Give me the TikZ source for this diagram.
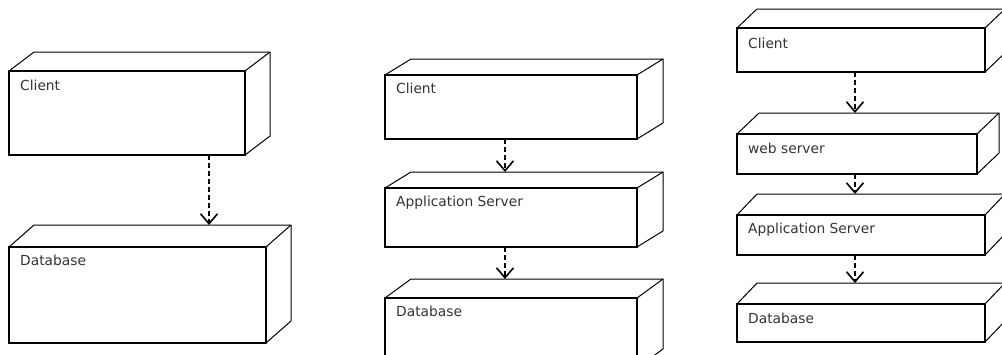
\documentclass[tikz,border=0pt]{standalone}
\usepackage{fontspec}
\setsansfont{DejaVu Sans}
\usetikzlibrary{arrows.meta,calc}
\tikzset{
  front/.style={draw=black, line width=1.4pt, inner sep=0pt, outer sep=0pt},
  edge/.style={draw=black, line width=1pt, line join=round},
  lbl/.style={anchor=north west, inner sep=0pt, text=black!80,
    font=\sffamily\fontsize{13.8}{16}\selectfont},
  dep/.style={draw=black, line width=1.2pt, dash pattern=on 5pt off 3pt,
    -{Straight Barb[length=10pt,width=17pt,line width=1.6pt]}}
}
\newcommand\umlbox[9]{%
  \node[front, minimum width=#4pt, minimum height=#5pt, anchor=north west] (#1) at (#2,#3) {};
  \coordinate (#1b) at ($(#1.north west)+(#6,#7)$);
  \coordinate (#1c) at ($(#1.north east)+(#6,#7)$);
  \coordinate (#1d) at ($(#1.south east)+(#6,#7)$);
  \draw[edge] (#1.north west) -- (#1b) -- (#1c) -- (#1d) -- (#1.south east);
  \draw[edge] (#1.north east) -- (#1c);
  \node[lbl] (#1l) at ($(#1.north west)+(11,#9)$) {#8};
}
\begin{document}
\begin{tikzpicture}[x=1pt,y=-1pt]
\useasboundingbox (0,0) rectangle (1002,354);
\clip (0,0) rectangle (1002,354);
% column 1
\umlbox{Ca}{9}{71}{236}{84}{25}{-19}{Client}{9}
\umlbox{Da}{9}{247}{257}{96}{25}{-22}{Database}{8}
% column 2
\umlbox{Cb}{385}{75}{252}{64}{26}{-16}{Client}{8}
\umlbox{Ab}{385}{188}{252}{59}{26}{-16}{Application Server}{8}
\umlbox{Db}{385}{298}{252}{70}{26}{-19}{Database}{8}
% column 3
\umlbox{Cc}{737}{28}{248}{44}{20}{-19}{Client}{10}
\umlbox{Wc}{737}{134}{240}{40}{22}{-21}{web server}{9}
\umlbox{Ac}{737}{215}{248}{40}{20}{-21}{Application Server}{8}
\umlbox{Dc}{737}{304}{248}{38}{20}{-21}{Database}{9}
% arrow columns
\coordinate (xa) at (209,0);
\coordinate (xb) at (505,0);
\coordinate (xc) at (855,0);
\draw[dep] (Ca.south -| xa) -- (Dab -| xa);
\draw[dep] (Cb.south -| xb) -- (Abb -| xb);
\draw[dep] (Ab.south -| xb) -- (Dbb -| xb);
\draw[dep] (Cc.south -| xc) -- (Wcb -| xc);
\draw[dep] (Wc.south -| xc) -- (Acb -| xc);
\draw[dep] (Ac.south -| xc) -- (Dcb -| xc);
\end{tikzpicture}
\end{document}
